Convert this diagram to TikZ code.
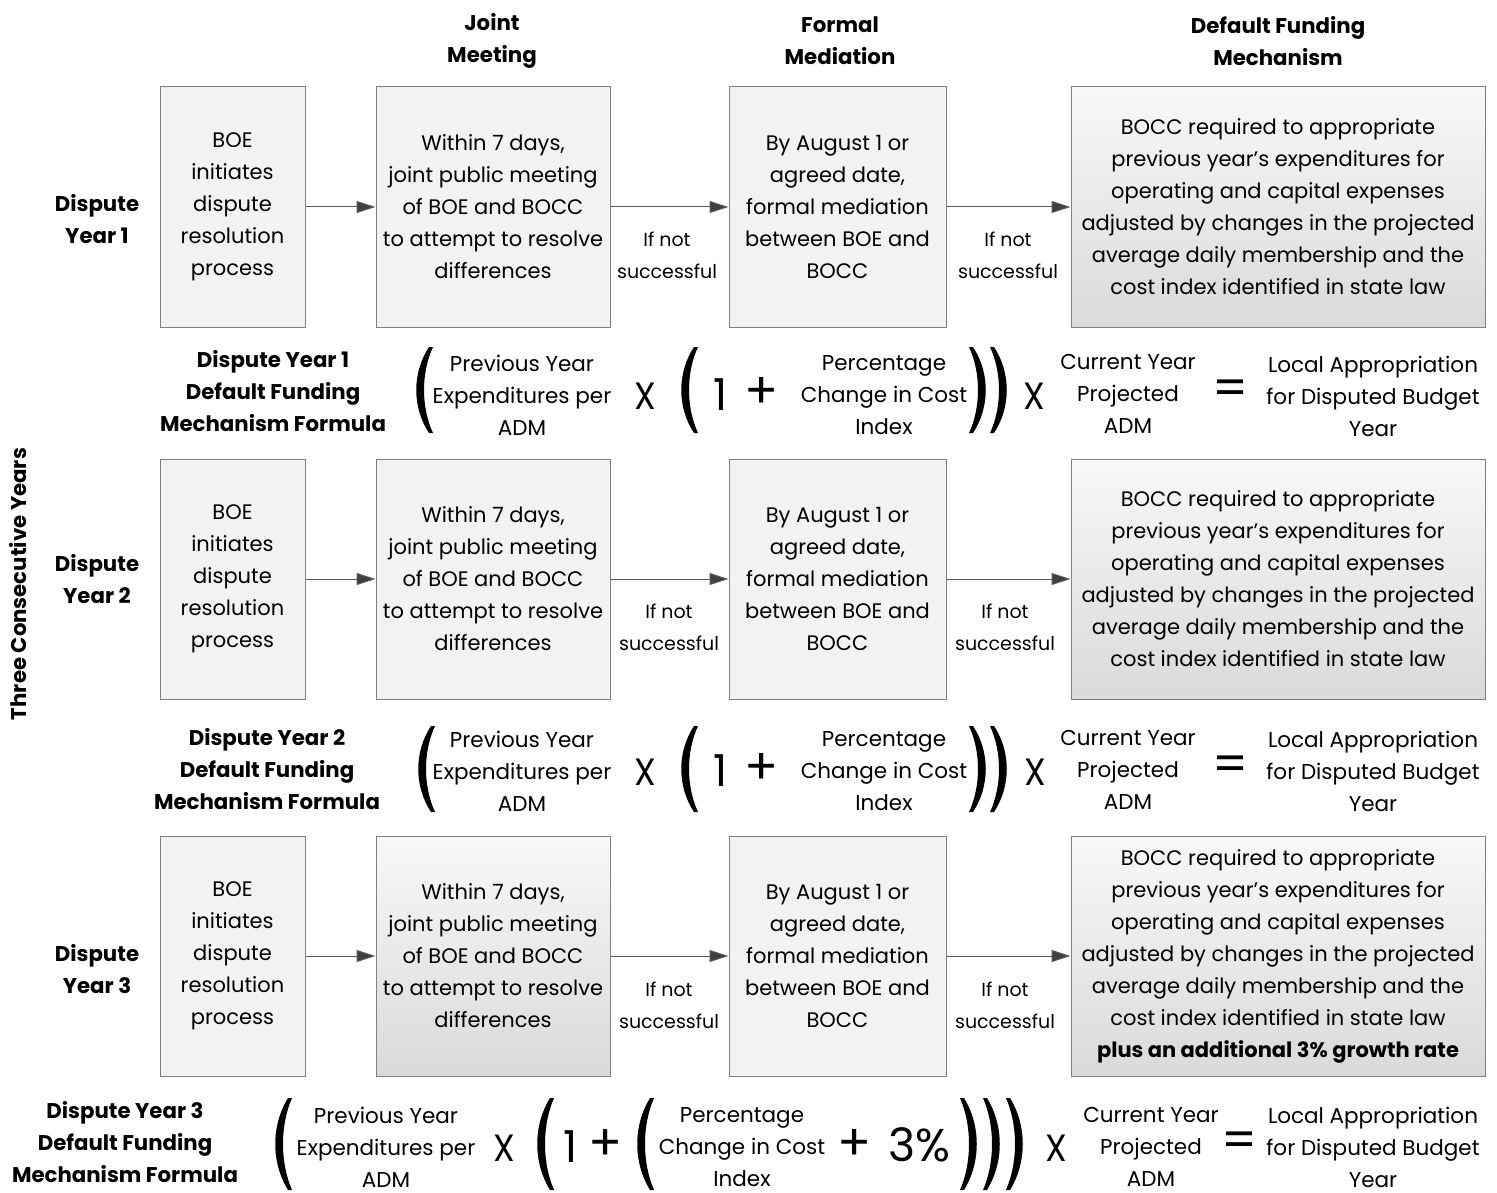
\documentclass[tikz,border=0pt]{standalone}
\usepackage{fontspec}
\setmainfont{Poppins}
\usetikzlibrary{arrows.meta,calc}
\definecolor{boxfill}{HTML}{F2F2F2}
\definecolor{boxline}{HTML}{808080}
\definecolor{arrcol}{HTML}{595959}
\definecolor{headcol}{HTML}{404040}
\definecolor{gradtop}{HTML}{F8F8F8}
\definecolor{gradbot}{HTML}{DADADA}
\newcommand\myLP[3]{\fill (#1+6,#2) .. controls (#1-11,{#2+0.3*(#3-#2)}) and (#1-11,{#3-0.3*(#3-#2)}) .. (#1+6,#3) -- (#1+10,#3) .. controls (#1-2,{#3-0.3*(#3-#2)}) and (#1-2,{#2+0.3*(#3-#2)}) .. (#1+10,#2) -- cycle;}
\newcommand\myRP[3]{\fill (#1-6,#2) .. controls (#1+11,{#2+0.3*(#3-#2)}) and (#1+11,{#3-0.3*(#3-#2)}) .. (#1-6,#3) -- (#1-10,#3) .. controls (#1+2,{#3-0.3*(#3-#2)}) and (#1+2,{#2+0.3*(#3-#2)}) .. (#1-10,#2) -- cycle;}
\newcommand\myX{\scalebox{0.92}[1]{X}}
\begin{document}
\begin{tikzpicture}[x=1pt,y=-1pt,
  every node/.style={font=\fontsize{21}{32}\selectfont, inner sep=0pt, align=center},
  box/.style={draw=boxline, line width=1pt, fill=boxfill, minimum height=240pt},
  gbox/.style={draw=boxline, line width=1pt, top color=gradtop, bottom color=gradbot, minimum height=240pt},
  hdr/.style={font=\fontsize{21.3}{32}\selectfont\bfseries},
  lbl/.style={font=\fontsize{19}{32}\selectfont},
  ftxt/.style={font=\fontsize{21.5}{32}\selectfont},
  arr/.style={draw=arrcol, line width=1pt, -{Triangle[length=19pt,width=12pt,fill=headcol]}},
  bigsym/.style={font=\fontsize{50}{50}\selectfont},
  onesym/.style={font=\fontsize{44}{44}\selectfont},
  pctsym/.style={font=\fontsize{46}{46}\selectfont},
  xsym/.style={font=\fontsize{38}{38}\selectfont}]
\useasboundingbox (0,0) rectangle (1497,1193);

% headers
\node[hdr] (h1) at (492,41) {Joint\\Meeting};
\node[hdr] (h2) at (840,41) {Formal\\Mediation};
\node[hdr] (h3) at (1278,41) {Default Funding\\Mechanism};
\node[hdr, rotate=90] (side) at (18,584) {Three Consecutive Years};

% row labels
\node[hdr] (r1) at (97,219) {Dispute\\Year 1};
\node[hdr] (r2) at (97,579) {Dispute\\Year 2};
\node[hdr] (r3) at (97,969) {Dispute\\Year 3};

% ---------- row 1
\node[box, minimum width=145pt] (a1) at (232.5,207) {BOE\\initiates\\dispute\\resolution\\process};
\node[box, minimum width=234pt] (b1) at (493,207) {Within 7 days,\\joint public meeting\\of BOE and BOCC\\to attempt to resolve\\differences};
\node[box, minimum width=217pt] (c1) at (837.5,207) {By August 1 or\\agreed date,\\formal mediation\\between BOE and\\BOCC};
\node[gbox, minimum width=414pt] (d1) at (1278,207) {BOCC required to appropriate\\previous year’s expenditures for\\operating and capital expenses\\adjusted by changes in the projected\\average daily membership and the\\cost index identified in state law};
\draw[arr] (a1) -- (b1);
\draw[arr] (b1) -- (c1);
\draw[arr] (c1) -- (d1);
\node[lbl] (l1a) at (667,255) {If not\\successful};
\node[lbl] (l1b) at (1008,255) {If not\\successful};

% ---------- row 2
\node[box, minimum width=145pt] (a2) at (232.5,579) {BOE\\initiates\\dispute\\resolution\\process};
\node[box, minimum width=234pt] (b2) at (493,579) {Within 7 days,\\joint public meeting\\of BOE and BOCC\\to attempt to resolve\\differences};
\node[box, minimum width=217pt] (c2) at (837.5,579) {By August 1 or\\agreed date,\\formal mediation\\between BOE and\\BOCC};
\node[gbox, minimum width=414pt] (d2) at (1278,579) {BOCC required to appropriate\\previous year’s expenditures for\\operating and capital expenses\\adjusted by changes in the projected\\average daily membership and the\\cost index identified in state law};
\draw[arr] (a2) -- (b2);
\draw[arr] (b2) -- (c2);
\draw[arr] (c2) -- (d2);
\node[lbl] (l2a) at (669,627) {If not\\successful};
\node[lbl] (l2b) at (1005,627) {If not\\successful};

% ---------- row 3
\node[box, minimum width=145pt] (a3) at (232.5,956) {BOE\\initiates\\dispute\\resolution\\process};
\node[gbox, minimum width=234pt] (b3) at (493,956) {Within 7 days,\\joint public meeting\\of BOE and BOCC\\to attempt to resolve\\differences};
\node[box, minimum width=217pt] (c3) at (837.5,956) {By August 1 or\\agreed date,\\formal mediation\\between BOE and\\BOCC};
\node[gbox, minimum width=414pt] (d3) at (1278,956) {BOCC required to appropriate\\previous year’s expenditures for\\operating and capital expenses\\adjusted by changes in the projected\\average daily membership and the\\cost index identified in state law\\\textbf{plus an additional 3\% growth rate}};
\draw[arr] (a3) -- (b3);
\draw[arr] (b3) -- (c3);
\draw[arr] (c3) -- (d3);
\node[lbl] (l3a) at (669,1005) {If not\\successful};
\node[lbl] (l3b) at (1005,1005) {If not\\successful};

% ---------- formula 1
\node[hdr] (f1t) at (273,391) {Dispute Year 1\\Default Funding\\Mechanism Formula};
\myLP{423}{347}{433}
\node[ftxt] (f1p) at (522,395) {Previous Year\\Expenditures per\\ADM};
\node[xsym] (f1x) at (645,396) {\myX};
\myLP{688}{347}{433}
\node[onesym] (f1one) at (721,395) {1};
\node[bigsym] (f1plus) at (762,393) {+};
\node[ftxt] (f1c) at (884,395) {Percentage\\Change in Cost\\Index};
\myRP{979}{347}{433}
\myRP{1000}{347}{433}
\node[xsym] (f1x2) at (1034,396) {\myX};
\node[ftxt] (f1a) at (1128,394) {Current Year\\Projected\\ADM};
\node[bigsym] (f1eq) at (1231,393) {=};
\node[ftxt] (f1l) at (1373,396) {Local Appropriation\\for Disputed Budget\\Year};

% ---------- formula 2
\node[hdr] (f2t) at (267,769) {Dispute Year 2\\Default Funding\\Mechanism Formula};
\myLP{425}{726}{812}
\node[ftxt] (f2p) at (522,771) {Previous Year\\Expenditures per\\ADM};
\node[xsym] (f2x) at (645,772) {\myX};
\myLP{688}{726}{812}
\node[onesym] (f2one) at (721,771) {1};
\node[bigsym] (f2plus) at (762,769) {+};
\node[ftxt] (f2c) at (884,771) {Percentage\\Change in Cost\\Index};
\myRP{979}{726}{812}
\myRP{1000}{726}{812}
\node[xsym] (f2x2) at (1035,772) {\myX};
\node[ftxt] (f2a) at (1128,770) {Current Year\\Projected\\ADM};
\node[bigsym] (f2eq) at (1231,769) {=};
\node[ftxt] (f2l) at (1373,771) {Local Appropriation\\for Disputed Budget\\Year};

% ---------- formula 3
\node[hdr] (f3t) at (125,1142) {Dispute Year 3\\Default Funding\\Mechanism Formula};
\myLP{282}{1098}{1190}
\node[ftxt] (f3p) at (386,1147) {Previous Year\\Expenditures per\\ADM};
\node[xsym] (f3x) at (504,1148) {\myX};
\myLP{544}{1098}{1190}
\node[onesym] (f3one) at (571,1147) {1};
\node[bigsym] (f3plus) at (606,1145) {+};
\myLP{644}{1098}{1190}
\node[ftxt] (f3c) at (742,1147) {Percentage\\Change in Cost\\Index};
\node[bigsym] (f3plus2) at (855,1145) {+};
\node[pctsym] (f3pct) at (919,1145) {3\%};
\myRP{970}{1098}{1190}
\myRP{993}{1098}{1190}
\myRP{1016}{1098}{1190}
\node[xsym] (f3x2) at (1056,1148) {\myX};
\node[ftxt] (f3a) at (1151,1147) {Current Year\\Projected\\ADM};
\node[bigsym] (f3eq) at (1240,1145) {=};
\node[ftxt] (f3l) at (1373,1147) {Local Appropriation\\for Disputed Budget\\Year};
\end{tikzpicture}
\end{document}
